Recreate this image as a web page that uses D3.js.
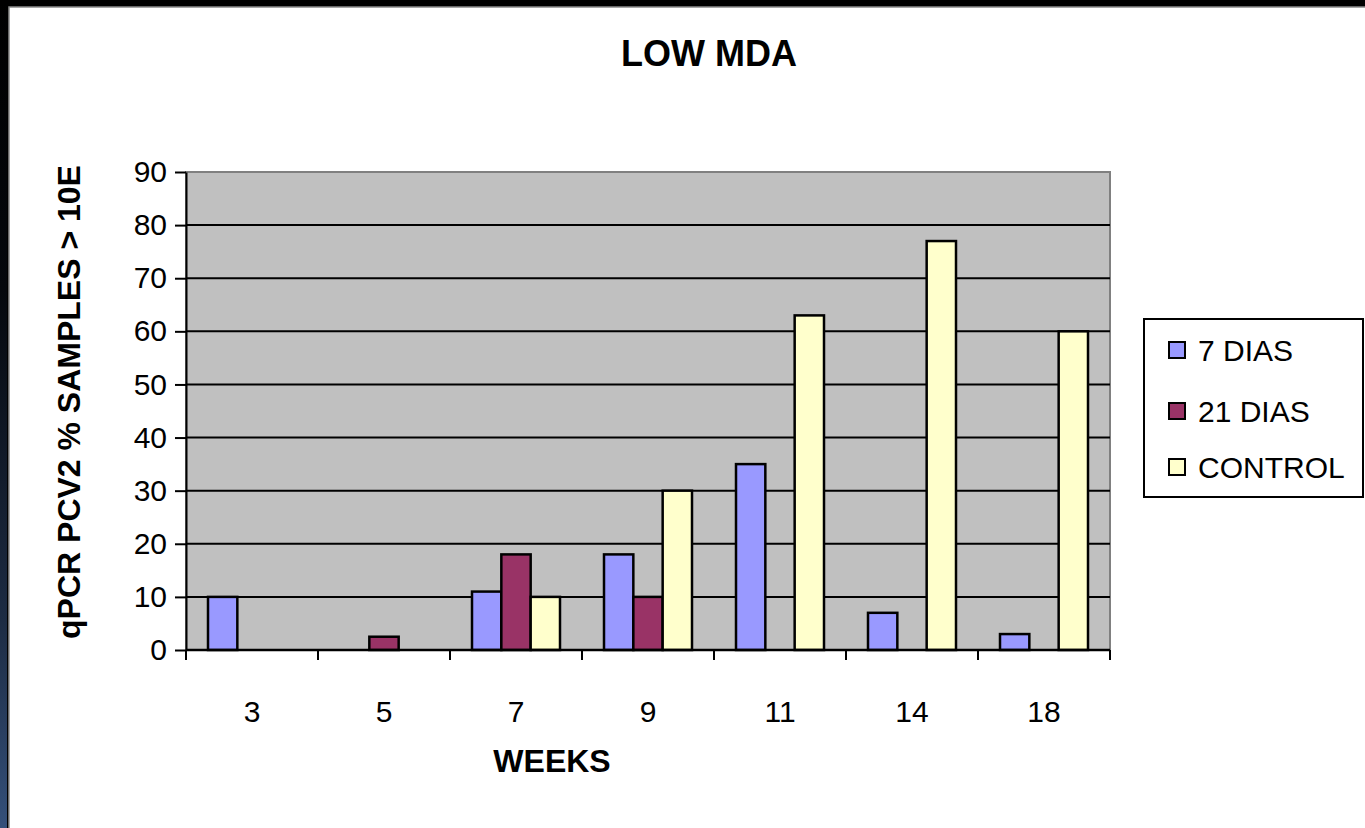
<!DOCTYPE html>
<html>
<head>
<meta charset="utf-8">
<script src="https://cdn.jsdelivr.net/npm/d3@7"></script>
<style>
  html, body { margin: 0; padding: 0; background: #000; }
  svg { display: block; font-family: "Liberation Sans", Arial, sans-serif; }
</style>
</head>
<body>
<div id="chart"></div>
<script>
// Chart data
var weeks = ["3", "5", "7", "9", "11", "14", "18"];
var seriesNames = ["7 DIAS", "21 DIAS", "CONTROL"];
var dias7 = [10, 0, 11, 18, 35, 7, 3];
var dias21 = [0, 2.5, 18, 10, 0, 0, 0];
var control = [0, 0, 10, 30, 63, 77, 60];
var yTicks = [0, 10, 20, 30, 40, 50, 60, 70, 80, 90];
var seriesColors = ["#9999FF", "#993366", "#FFFFCC"];

var W = 1365, H = 828;
var plot = {left: 186, right: 1110, top: 172, bottom: 650};

var svg = d3.select("#chart")
  .append("svg")
  .attr("width", W)
  .attr("height", H);

// frame: black band + blue-ish left edge + white panel
var defs = svg.append("defs");
var grad = defs.append("linearGradient")
  .attr("id", "edge")
  .attr("x1", 0).attr("y1", 0).attr("x2", 0).attr("y2", 1);
grad.append("stop").attr("offset", "0%").attr("stop-color", "#000");
grad.append("stop").attr("offset", "35%").attr("stop-color", "#05080d");
grad.append("stop").attr("offset", "75%").attr("stop-color", "#1d2c44");
grad.append("stop").attr("offset", "100%").attr("stop-color", "#34507a");

svg.append("rect").attr("width", W).attr("height", H).attr("fill", "#000");
svg.append("rect").attr("x", 0).attr("y", 0).attr("width", 7).attr("height", H).attr("fill", "url(#edge)");
svg.append("rect")
  .attr("x", 9).attr("y", 7)
  .attr("width", W + 20).attr("height", H + 20)
  .attr("fill", "#fff")
  .attr("stroke", "#8a8a8a")
  .attr("stroke-width", 1.5);

// scales
var x = d3.scaleBand()
  .domain(weeks)
  .range([plot.left, plot.right]);

var xInner = d3.scaleBand()
  .domain(seriesNames)
  .range([0, x.bandwidth()])
  .paddingOuter(0.75);

var y = d3.scaleLinear()
  .domain([0, 90])
  .range([plot.bottom, plot.top]);

var color = d3.scaleOrdinal()
  .domain(seriesNames)
  .range(seriesColors);

// plot area background
svg.append("rect")
  .attr("x", plot.left)
  .attr("y", plot.top)
  .attr("width", plot.right - plot.left)
  .attr("height", plot.bottom - plot.top)
  .attr("fill", "#C0C0C0")
  .attr("stroke", "#808080")
  .attr("stroke-width", 2);

// gridlines
svg.append("g")
  .selectAll("line")
  .data(yTicks.filter(d => d > 0 && d < 90))
  .enter().append("line")
  .attr("x1", plot.left)
  .attr("x2", plot.right)
  .attr("y1", d => y(d))
  .attr("y2", d => y(d))
  .attr("stroke", "#000")
  .attr("stroke-width", 2);

// bars
var table = weeks.map((w, i) => ({week: w, values: [dias7[i], dias21[i], control[i]]}));

svg.append("g")
  .selectAll("g")
  .data(table)
  .enter().append("g")
  .attr("transform", d => "translate(" + x(d.week) + ",0)")
  .selectAll("rect")
  .data(d => d.values.map((v, j) => ({key: seriesNames[j], value: v})).filter(d => d.value > 0))
  .enter().append("rect")
  .attr("x", d => xInner(d.key))
  .attr("y", d => y(d.value))
  .attr("width", xInner.bandwidth())
  .attr("height", d => y(0) - y(d.value))
  .attr("fill", d => color(d.key))
  .attr("stroke", "#000")
  .attr("stroke-width", 2.5);

// y axis
var yAxis = svg.append("g")
  .attr("transform", "translate(" + plot.left + ",0)")
  .call(d3.axisLeft(y).tickValues(yTicks).tickSize(11).tickPadding(8).tickSizeOuter(0));
yAxis.select(".domain").attr("stroke-width", 2);
yAxis.selectAll(".tick line").attr("stroke-width", 2);
yAxis.selectAll("text")
  .style("font-size", "30px")
  .attr("fill", "#000");

// x axis
var xTickPos = weeks.map(w => x(w)).concat([plot.right]);
var xAxis = svg.append("g")
  .attr("transform", "translate(0," + plot.bottom + ")");
xAxis.append("line")
  .attr("x1", plot.left).attr("x2", plot.right)
  .attr("stroke", "#000").attr("stroke-width", 2.5);
xAxis.selectAll(".tk")
  .data(xTickPos)
  .enter().append("line")
  .attr("class", "tk")
  .attr("x1", d => d).attr("x2", d => d)
  .attr("y1", 0).attr("y2", 10)
  .attr("stroke", "#000").attr("stroke-width", 2);
xAxis.selectAll("text")
  .data(weeks)
  .enter().append("text")
  .attr("x", d => x(d) + x.bandwidth() / 2)
  .attr("y", 72)
  .attr("text-anchor", "middle")
  .style("font-size", "30px")
  .text(d => d);

// title
svg.append("text")
  .attr("x", 709)
  .attr("y", 66)
  .attr("text-anchor", "middle")
  .style("font-size", "36px")
  .style("font-weight", "bold")
  .text("LOW MDA");

// axis titles
svg.append("text")
  .attr("x", 552)
  .attr("y", 772)
  .attr("text-anchor", "middle")
  .style("font-size", "32px")
  .style("font-weight", "bold")
  .text("WEEKS");

svg.append("text")
  .attr("transform", "rotate(-90)")
  .attr("x", -402)
  .attr("y", 80)
  .attr("text-anchor", "middle")
  .style("font-size", "32px")
  .style("font-weight", "bold")
  .text("qPCR PCV2 % SAMPLES > 10E");

// legend
var legend = svg.append("g")
  .attr("transform", "translate(1144,319)");

legend.append("rect")
  .attr("width", 219)
  .attr("height", 178)
  .attr("fill", "#fff")
  .attr("stroke", "#000")
  .attr("stroke-width", 2);

var legendY = [31, 92, 148];
seriesNames.forEach((key, i) => {
  var row = legend.append("g")
    .attr("transform", "translate(24," + legendY[i] + ")");
  row.append("rect")
    .attr("x", 1)
    .attr("y", -8)
    .attr("width", 16)
    .attr("height", 16)
    .attr("fill", color(key))
    .attr("stroke", "#000")
    .attr("stroke-width", 2);
  row.append("text")
    .attr("x", 30)
    .attr("y", 11)
    .style("font-size", "30px")
    .text(key);
});
</script>
</body>
</html>
